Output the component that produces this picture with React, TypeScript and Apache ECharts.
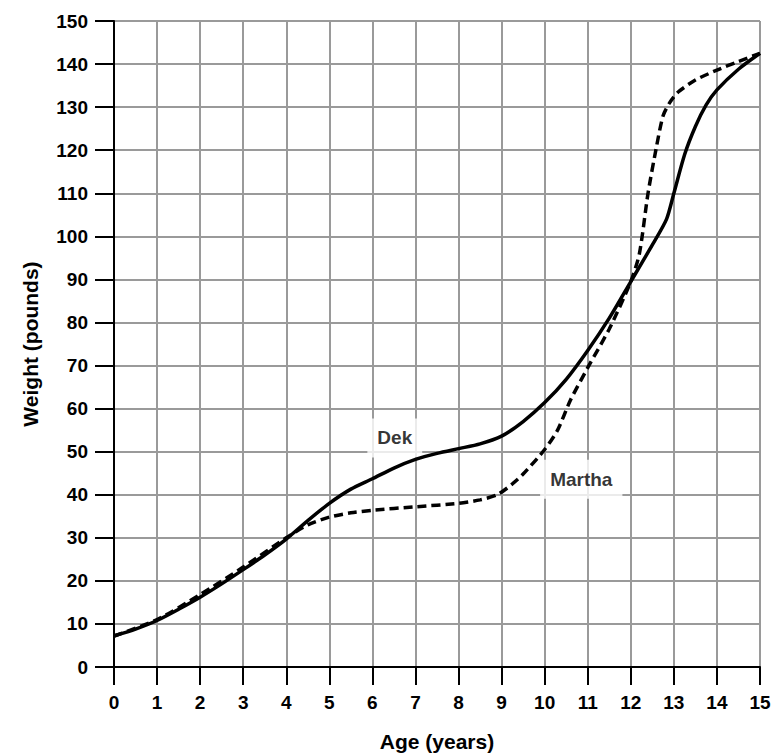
import React, { useEffect, useRef } from "react";
import * as echarts from "echarts";

const dekAges = [0, 0.5, 1, 1.5, 2, 2.5, 3, 3.5, 4, 4.5, 5, 5.5, 6, 6.5, 7, 7.5, 8, 8.5, 9, 9.5, 10, 10.5, 11, 11.5, 12, 12.5, 12.83, 13, 13.25, 13.5, 13.75, 14, 14.5, 15];
const dekWeights = [7.2, 8.8, 10.8, 13.4, 16.2, 19.3, 22.6, 26, 29.7, 34, 38, 41.3, 43.7, 46.2, 48.2, 49.6, 50.7, 51.8, 53.6, 57, 61.4, 66.8, 73.5, 81, 89.5, 98, 104, 110, 119, 125.5, 130.5, 134, 138.8, 142.5];

const marthaAges = [0, 1, 2, 3, 4, 4.5, 5, 5.5, 6, 7, 8, 8.5, 8.9, 9.25, 9.5, 10, 10.3, 10.6, 11, 11.5, 12, 12.2, 12.4, 12.6, 12.75, 12.9, 13.1, 13.5, 14, 14.5, 15];
const marthaWeights = [7.2, 11, 16.8, 23.2, 30, 33, 34.8, 35.8, 36.4, 37.2, 38, 38.8, 40, 42.5, 44.8, 50.5, 55, 62, 69.5, 78.5, 89.5, 96, 110, 121, 128, 131, 133.5, 136.3, 138.6, 140.6, 142.5];

const seriesNames = ["Dek", "Martha"];
const labelAges = [6.52, 10.85];
const labelWeights = [53.2, 43.6];

const xAxisTitle = "Age (years)";
const yAxisTitle = "Weight (pounds)";

const FONT = "'Liberation Sans', Arial, sans-serif";

export default function App() {
  const ref = useRef<HTMLDivElement>(null);
  useEffect(() => {
    if (!ref.current) return;
    const chart = echarts.init(ref.current, null, { renderer: "svg" });
    const toPairs = (xs: number[], ys: number[]) => xs.map((x, i) => [x, ys[i]]);
    chart.setOption({
      animation: false,
      backgroundColor: "#ffffff",
      grid: { left: 114, right: 17, top: 21, bottom: 86, containLabel: false },
      xAxis: {
        type: "value",
        min: 0,
        max: 15,
        interval: 1,
        axisLine: { lineStyle: { color: "#000", width: 2 } },
        axisTick: { show: true, inside: false, length: 18, lineStyle: { color: "#000", width: 2 } },
        axisLabel: { margin: 26, fontFamily: FONT, fontWeight: "bold", fontSize: 19, color: "#000" },
        splitLine: { show: true, lineStyle: { color: "#9a9a9a", width: 2 } },
      },
      yAxis: {
        type: "value",
        min: 0,
        max: 150,
        interval: 10,
        axisLine: { show: true, lineStyle: { color: "#000", width: 2 } },
        axisTick: { show: true, inside: false, length: 19, lineStyle: { color: "#000", width: 2 } },
        axisLabel: { margin: 26, fontFamily: FONT, fontWeight: "bold", fontSize: 19, color: "#000" },
        splitLine: { show: true, lineStyle: { color: "#9a9a9a", width: 2 } },
      },
      graphic: [
        {
          type: "text",
          x: 437,
          y: 741,
          style: {
            text: xAxisTitle,
            font: `bold 21px ${FONT}`,
            fill: "#000",
            align: "center",
            verticalAlign: "middle",
          },
        },
        {
          type: "text",
          x: 30,
          y: 344,
          rotation: Math.PI / 2,
          style: {
            text: yAxisTitle,
            font: `bold 21px ${FONT}`,
            fill: "#000",
            align: "center",
            verticalAlign: "middle",
          },
        },
      ],
      series: [
        {
          name: seriesNames[0],
          type: "line",
          data: toPairs(dekAges, dekWeights),
          smooth: 0.25,
          showSymbol: false,
          lineStyle: { color: "#000", width: 3.5, type: "solid" },
          z: 3,
        },
        {
          name: seriesNames[1],
          type: "line",
          data: toPairs(marthaAges, marthaWeights),
          smooth: 0.25,
          showSymbol: false,
          lineStyle: { color: "#000", width: 3.5, type: [9, 5] },
          z: 3,
        },
        {
          type: "scatter",
          symbolSize: 0,
          data: labelAges.map((x, i) => ({ value: [x, labelWeights[i]], name: seriesNames[i] })),
          label: {
            show: true,
            position: "inside",
            formatter: (p: any) => p.name,
            fontFamily: FONT,
            fontWeight: "bold",
            fontSize: 19,
            color: "#000",
            backgroundColor: "#ffffff",
            padding: [10, 10, 10, 10],
          },
          z: 2,
          silent: true,
        },
      ],
    });
    return () => chart.dispose();
  }, []);
  return <div ref={ref} style={{ width: 777, height: 753, position: "absolute", left: 0, top: 0 }} />;
}
